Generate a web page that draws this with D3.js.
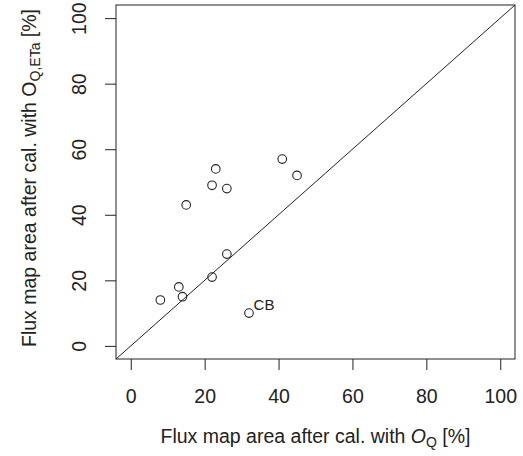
<!DOCTYPE html>
<html>
<head>
<meta charset="utf-8">
<script src="https://cdn.jsdelivr.net/npm/d3@7"></script>
<style>
  html, body { margin: 0; padding: 0; background: #fff; }
  svg { display: block; font-family: "Liberation Sans", Arial, sans-serif; }
</style>
</head>
<body>
<svg id="chart"></svg>
<script>
// values (percent of flux map area)
var calQ = [8, 13, 14, 22, 26, 15, 22, 23, 26, 41, 45, 32];
var calQETa = [14, 18, 15, 21, 28, 43, 49, 54, 48, 57, 52, 10];
var pointLabels = ["", "", "", "", "", "", "", "", "", "", "", "CB"];
var tickValues = [0, 20, 40, 60, 80, 100];

var width = 523, height = 456;
var margin = { left: 116, right: 8, top: 5, bottom: 97 };
var fontSize = 19.5;
var subSize = 14;
var ink = "#222";

var svg = d3.select("#chart").attr("width", width).attr("height", height);

var x = d3.scaleLinear().domain([-4, 104]).range([margin.left, width - margin.right]);
var y = d3.scaleLinear().domain([-4, 104]).range([height - margin.bottom, margin.top]);

// x axis
var gx = svg.append("g")
  .attr("transform", "translate(0," + (height - margin.bottom) + ")")
  .call(d3.axisBottom(x).tickValues(tickValues).tickSize(11).tickFormat(d3.format("d")));
gx.select(".domain").remove();
gx.selectAll("line").attr("stroke", ink);
gx.selectAll("text")
  .attr("y", 44).attr("dy", null)
  .attr("fill", ink).style("font-size", fontSize + "px");
gx.attr("font-family", null).attr("font-size", null);

// y axis, labels turned like R's default las=0
var gy = svg.append("g")
  .attr("transform", "translate(" + margin.left + ",0)")
  .call(d3.axisLeft(y).tickValues(tickValues).tickSize(11).tickFormat(d3.format("d")));
gy.select(".domain").remove();
gy.selectAll("line").attr("stroke", ink);
gy.selectAll("text")
  .attr("x", 0).attr("y", -30).attr("dy", null)
  .attr("transform", "rotate(-90)")
  .attr("text-anchor", "middle")
  .attr("fill", ink).style("font-size", fontSize + "px");
gy.attr("font-family", null).attr("font-size", null);

// 1:1 line
svg.append("line")
  .attr("x1", x(-4)).attr("y1", y(-4))
  .attr("x2", x(104)).attr("y2", y(104))
  .attr("stroke", ink).attr("stroke-width", 1);

// box
svg.append("rect")
  .attr("x", margin.left).attr("y", margin.top)
  .attr("width", width - margin.left - margin.right)
  .attr("height", height - margin.top - margin.bottom)
  .attr("fill", "none").attr("stroke", ink).attr("stroke-width", 1);

// points
svg.append("g").selectAll("circle")
  .data(calQ)
  .join("circle")
  .attr("cx", function (d) { return x(d); })
  .attr("cy", function (d, i) { return y(calQETa[i]); })
  .attr("r", 4.3)
  .attr("fill", "none").attr("stroke", ink).attr("stroke-width", 1.1);

svg.append("g").selectAll("text")
  .data(calQ)
  .join("text")
  .attr("x", function (d) { return x(d) + 4.6; })
  .attr("y", function (d, i) { return y(calQETa[i]) - 3.5; })
  .attr("fill", ink)
  .style("font-size", "15px")
  .text(function (d, i) { return pointLabels[i]; });

// axis titles
var xt = svg.append("text")
  .attr("x", (margin.left + width - margin.right) / 2)
  .attr("y", 443)
  .attr("text-anchor", "middle")
  .attr("fill", ink)
  .style("font-size", fontSize + "px");
xt.append("tspan").text("Flux map area after cal. with ");
xt.append("tspan").style("font-style", "italic").text("O");
xt.append("tspan").attr("dy", 4).style("font-size", subSize + "px").text("Q");
xt.append("tspan").attr("dy", -4).text(" [%]");

var yt = svg.append("text")
  .attr("transform", "translate(36,178) rotate(-90)")
  .attr("text-anchor", "middle")
  .attr("fill", ink)
  .style("font-size", fontSize + "px");
yt.append("tspan").text("Flux map area after cal. with O");
yt.append("tspan").attr("dy", 4).style("font-size", subSize + "px").text("Q,ETa");
yt.append("tspan").attr("dy", -4).text(" [%]");
</script>
</body>
</html>
